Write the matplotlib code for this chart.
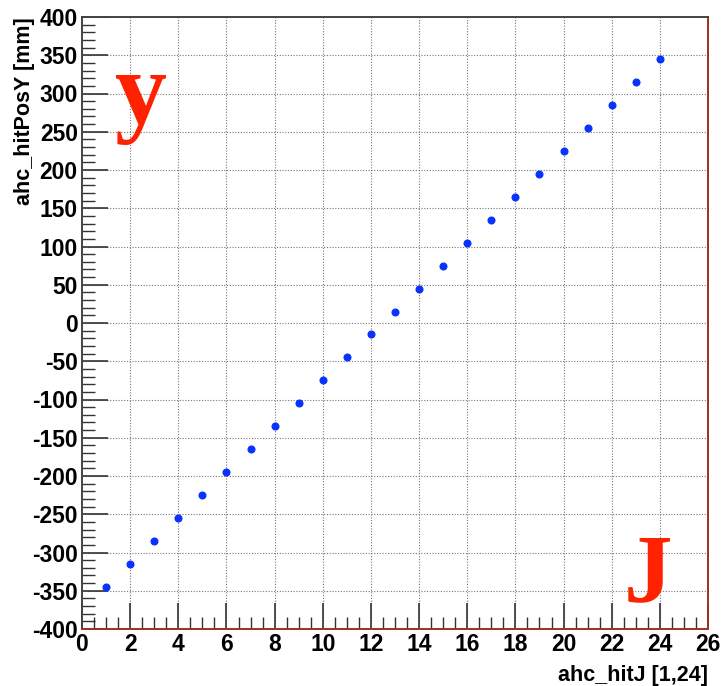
import matplotlib
matplotlib.use("Agg")
import matplotlib.pyplot as plt
from matplotlib.ticker import MultipleLocator

# hit J index vs. hit Y position
hit_j = [1, 2, 3, 4, 5, 6, 7, 8, 9, 10, 11, 12,
         13, 14, 15, 16, 17, 18, 19, 20, 21, 22, 23, 24]
hit_pos_y = [-345, -315, -285, -255, -225, -195, -165, -135, -105, -75, -45, -15,
             15, 45, 75, 105, 135, 165, 195, 225, 255, 285, 315, 345]

plt.rcParams["font.family"] = ["Liberation Sans", "DejaVu Sans"]
plt.rcParams["font.weight"] = "bold"
plt.rcParams["axes.unicode_minus"] = False

fig = plt.figure(figsize=(7.25, 6.86), dpi=100)
ax = fig.add_axes([82 / 725, 1 - 629 / 686, 626 / 725, 612 / 686])

ax.plot(hit_j, hit_pos_y, "o", color="#0a32ff", markersize=4.8, zorder=3)

ax.set_xlim(0, 26)
ax.set_ylim(-400, 400)
ax.xaxis.set_major_locator(MultipleLocator(2))
ax.xaxis.set_minor_locator(MultipleLocator(0.5))
ax.yaxis.set_major_locator(MultipleLocator(50))
ax.yaxis.set_minor_locator(MultipleLocator(10))
ax.tick_params(which="both", direction="in", top=False, right=False, color="#333333")
ax.tick_params(which="major", length=19, width=1.2)
ax.tick_params(which="minor", length=9, width=1.0)
ax.tick_params(axis="both", labelsize=16.5, pad=3)

ax.grid(True, which="major", linestyle=(0, (1, 1.5)), color="#777777", linewidth=0.8)

for side in ["top", "left"]:
    ax.spines[side].set_color("#444444")
    ax.spines[side].set_linewidth(1.4)
for side in ["bottom", "right"]:
    ax.spines[side].set_color("#a03020")
    ax.spines[side].set_linewidth(1.4)

ax.set_xlabel("ahc_hitJ [1,24]", fontsize=15.5, fontweight="bold", loc="right", labelpad=6)
ax.set_ylabel("ahc_hitPosY [mm]", fontsize=15.5, fontweight="bold", loc="top", labelpad=-2)

ax.text(0.053, 0.826, "y", transform=ax.transAxes, fontsize=75, color="#ff2200",
        family="Liberation Serif", fontweight="bold", ha="left", va="baseline")
ax.text(0.866, 0.045, "J", transform=ax.transAxes, fontsize=70, color="#ff2200",
        family="Liberation Serif", fontweight="bold", ha="left", va="baseline")

fig.savefig("out.png", dpi=100)
